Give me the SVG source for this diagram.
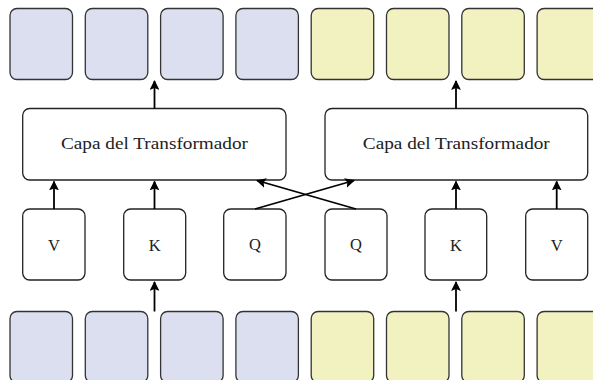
<svg xmlns="http://www.w3.org/2000/svg" width="593" height="380" viewBox="0 0 593 380">
<defs>
<marker id="ah" viewBox="0 0 10 10" refX="9" refY="5" markerWidth="5.5" markerHeight="5.5" orient="auto" markerUnits="strokeWidth">
<path d="M0,0 L10,5 L0,10 L2,5 Z" fill="#000"/>
</marker>
<style>
.tok{stroke:#333;stroke-width:1.3}
.blue{fill:#dcdff0}
.yel{fill:#f2f2c0}
.box{fill:#fff;stroke:#222;stroke-width:1.3}
.lbl{font-family:"Liberation Serif","DejaVu Serif",serif;font-size:16.5px;fill:#222;text-anchor:middle;dominant-baseline:central}
.conn line{stroke:#000;stroke-width:1.8;marker-end:url(#ah)}
</style>
</defs>
<rect width="593" height="380" fill="#fff"/>
<g id="top-tokens">
<rect class="tok blue" x="10" y="8.5" width="62.5" height="71" rx="7"/>
<rect class="tok blue" x="85.3" y="8.5" width="62.5" height="71" rx="7"/>
<rect class="tok blue" x="160.6" y="8.5" width="62.5" height="71" rx="7"/>
<rect class="tok blue" x="235.9" y="8.5" width="62.5" height="71" rx="7"/>
<rect class="tok yel" x="311.2" y="8.5" width="62.5" height="71" rx="7"/>
<rect class="tok yel" x="386.5" y="8.5" width="62.5" height="71" rx="7"/>
<rect class="tok yel" x="461.8" y="8.5" width="62.5" height="71" rx="7"/>
<rect class="tok yel" x="537.1" y="8.5" width="62.5" height="71" rx="7"/>
</g>
<g id="bottom-tokens">
<rect class="tok blue" x="10" y="311.5" width="62.5" height="71" rx="7"/>
<rect class="tok blue" x="85.3" y="311.5" width="62.5" height="71" rx="7"/>
<rect class="tok blue" x="160.6" y="311.5" width="62.5" height="71" rx="7"/>
<rect class="tok blue" x="235.9" y="311.5" width="62.5" height="71" rx="7"/>
<rect class="tok yel" x="311.2" y="311.5" width="62.5" height="71" rx="7"/>
<rect class="tok yel" x="386.5" y="311.5" width="62.5" height="71" rx="7"/>
<rect class="tok yel" x="461.8" y="311.5" width="62.5" height="71" rx="7"/>
<rect class="tok yel" x="537.1" y="311.5" width="62.5" height="71" rx="7"/>
</g>
<g id="transformer-left">
<rect class="box" x="22.7" y="108.5" width="263.3" height="71.5" rx="7"/>
<text class="lbl" x="154.5" y="143" textLength="187" lengthAdjust="spacingAndGlyphs">Capa del Transformador</text>
</g>
<g id="transformer-right">
<rect class="box" x="325" y="108.5" width="262.7" height="71.5" rx="7"/>
<text class="lbl" x="456.3" y="143" textLength="187" lengthAdjust="spacingAndGlyphs">Capa del Transformador</text>
</g>
<g id="V-left"><rect class="box" x="22.7" y="209" width="62.3" height="71" rx="7"/><text class="lbl" x="53.9" y="245">V</text></g>
<g id="K-left"><rect class="box" x="123.7" y="209" width="62" height="71" rx="7"/><text class="lbl" x="154.7" y="245">K</text></g>
<g id="Q-left"><rect class="box" x="223.7" y="209" width="62.3" height="71" rx="7"/><text class="lbl" x="254.9" y="244">Q</text></g>
<g id="Q-right"><rect class="box" x="325" y="209" width="62" height="71" rx="7"/><text class="lbl" x="356" y="244">Q</text></g>
<g id="K-right"><rect class="box" x="425" y="209" width="61.7" height="71" rx="7"/><text class="lbl" x="455.9" y="245">K</text></g>
<g id="V-right"><rect class="box" x="525.7" y="209" width="62" height="71" rx="7"/><text class="lbl" x="556.7" y="245">V</text></g>
<g id="connectors" class="conn">
<line x1="154.5" y1="108.5" x2="154.5" y2="81"/>
<line x1="456" y1="108.5" x2="456" y2="81"/>
<line x1="54" y1="209" x2="54" y2="181.5"/>
<line x1="154.5" y1="209" x2="154.5" y2="181.5"/>
<line x1="456" y1="209" x2="456" y2="181.5"/>
<line x1="556.7" y1="209" x2="556.7" y2="181.5"/>
<line x1="255" y1="209" x2="354" y2="180.5"/>
<line x1="356" y1="209" x2="257" y2="180.5"/>
<line x1="154.5" y1="311.5" x2="154.5" y2="282"/>
<line x1="456" y1="311.5" x2="456" y2="282"/>
</g>
</svg>
